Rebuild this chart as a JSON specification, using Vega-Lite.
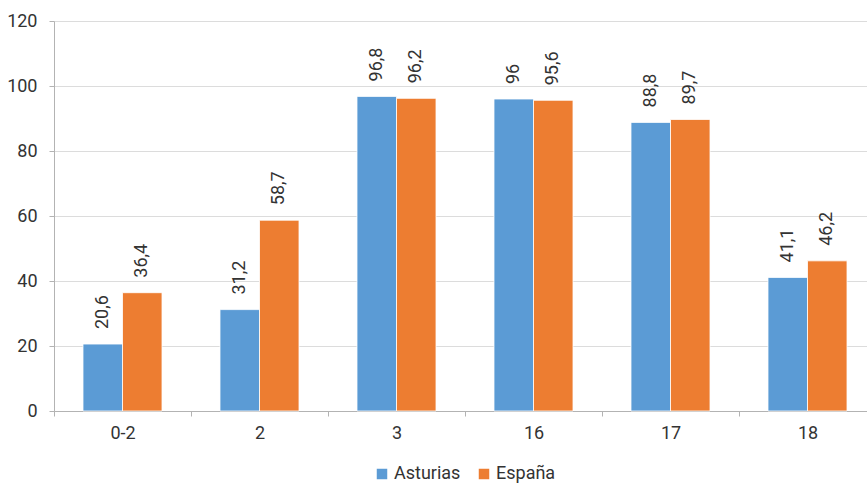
{
  "$schema": "https://vega.github.io/schema/vega-lite/v6.json",
  "width": 822,
  "height": 390,
  "autosize": {"type": "none"},
  "padding": {"left": 54, "top": 21, "right": 0, "bottom": 74},
  "background": "white",
  "config": {
    "view": {"stroke": null},
    "font": "Roboto",
    "locale": {"number": {"decimal": ",", "thousands": ".", "grouping": [3], "currency": ["", " €"]}}
  },
  "data": {
    "values": [
      {"edad": "0-2", "region": "Asturias", "valor": 20.6},
      {"edad": "0-2", "region": "España", "valor": 36.4},
      {"edad": "2", "region": "Asturias", "valor": 31.2},
      {"edad": "2", "region": "España", "valor": 58.7},
      {"edad": "3", "region": "Asturias", "valor": 96.8},
      {"edad": "3", "region": "España", "valor": 96.2},
      {"edad": "16", "region": "Asturias", "valor": 96},
      {"edad": "16", "region": "España", "valor": 95.6},
      {"edad": "17", "region": "Asturias", "valor": 88.8},
      {"edad": "17", "region": "España", "valor": 89.7},
      {"edad": "18", "region": "Asturias", "valor": 41.1},
      {"edad": "18", "region": "España", "valor": 46.2}
    ]
  },
  "encoding": {
    "x": {
      "field": "edad", "type": "nominal", "sort": null,
      "scale": {"paddingInner": 0, "paddingOuter": 0},
      "axis": {
        "title": null, "labelAngle": 0, "tickBand": "extent",
        "labelFontSize": 18, "labelColor": "#333333", "labelPadding": 8,
        "domainColor": "#b3b3b3", "tickColor": "#b3b3b3", "tickSize": 5, "grid": false
      }
    },
    "xOffset": {
      "field": "region", "type": "nominal",
      "scale": {"paddingInner": 0, "paddingOuter": 0.734}
    },
    "y": {
      "field": "valor", "type": "quantitative",
      "scale": {"domain": [0, 120], "nice": false},
      "axis": {
        "title": null, "values": [0, 20, 40, 60, 80, 100, 120],
        "labelFontSize": 18, "labelColor": "#333333", "labelPadding": 12,
        "domainColor": "#b3b3b3", "tickColor": "#b3b3b3", "tickSize": 5,
        "grid": true, "gridColor": "#dcdcdc", "gridWidth": 1.2
      }
    }
  },
  "layer": [
    {
      "mark": {"type": "bar", "stroke": "white", "strokeWidth": 0.8},
      "encoding": {
        "color": {
          "field": "region", "type": "nominal",
          "scale": {"domain": ["Asturias", "España"], "range": ["#5b9bd5", "#ed7d31"]},
          "legend": {
            "title": null, "orient": "none", "direction": "horizontal",
            "legendX": 319, "legendY": 444,
            "symbolType": "square", "symbolSize": 110, "symbolStrokeWidth": 0,
            "labelFontSize": 18, "labelColor": "#333333", "columnPadding": 14, "labelOffset": 3
          }
        }
      }
    },
    {
      "mark": {"type": "text", "angle": 270, "align": "left", "baseline": "middle", "dx": 15, "fontSize": 18, "color": "#333333"},
      "encoding": {
        "text": {"field": "valor", "type": "quantitative", "format": ".1~f"}
      }
    }
  ]
}
